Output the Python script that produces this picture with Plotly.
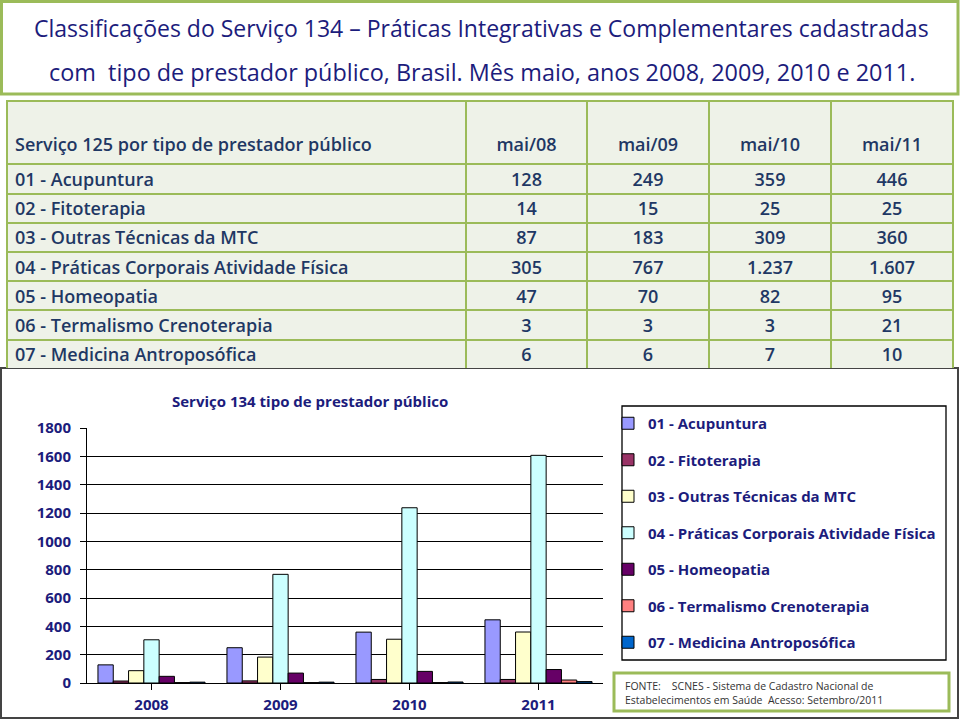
import plotly.graph_objects as go

# ---------------- data ----------------
years = ["2008", "2009", "2010", "2011"]
month_labels = ["mai/08", "mai/09", "mai/10", "mai/11"]
categories = [
    "01 - Acupuntura",
    "02 - Fitoterapia",
    "03 - Outras Técnicas da MTC",
    "04 - Práticas Corporais Atividade Física",
    "05 - Homeopatia",
    "06 - Termalismo Crenoterapia",
    "07 - Medicina Antroposófica",
]
acupuntura = [128, 249, 359, 446]
fitoterapia = [14, 15, 25, 25]
outras_mtc = [87, 183, 309, 360]
praticas_corporais = [305, 767, 1237, 1607]
homeopatia = [47, 70, 82, 95]
termalismo = [3, 3, 3, 21]
antroposofica = [6, 6, 7, 10]
series = [acupuntura, fitoterapia, outras_mtc, praticas_corporais,
          homeopatia, termalismo, antroposofica]
colors = ["#9999FF", "#993366", "#FFFFCC", "#CCFFFF", "#660066", "#FF8080", "#0066CC"]
y_ticks = [0, 200, 400, 600, 800, 1000, 1200, 1400, 1600, 1800]

title_l1 = "Classificações do Serviço 134 – Práticas Integrativas e Complementares cadastradas"
title_l2 = "com  tipo de prestador público, Brasil. Mês maio, anos 2008, 2009, 2010 e 2011."
table_header = "Serviço 125 por tipo de prestador público"
chart_title = "Serviço 134 tipo de prestador público"
source_text = ("FONTE:    SCNES - Sistema de Cadastro Nacional de<br>"
               "Estabelecimentos em Saúde  Acesso: Setembro/2011")

W, H = 960, 720
NAVY = "#1C1C7C"
TNAVY = "#1F3864"


def px_x(x):
    return x / W


def px_y(y):
    return 1 - y / H


def fmt(v):
    return f"{v:,}".replace(",", ".")


fig = go.Figure()

# ---------------- table ----------------
cols = [categories] + [[fmt(s[i]) for s in series] for i in range(len(years))]
fig.add_trace(go.Table(
    domain=dict(x=[px_x(7), px_x(953)], y=[px_y(368), px_y(101)]),
    columnwidth=[459, 121, 122, 122, 122],
    header=dict(
        values=["\u00a0<br>" + table_header] + ["\u00a0<br>" + m for m in month_labels],
        align=["left", "center", "center", "center", "center"],
        fill_color="#EEF2E8",
        line=dict(color="#9BBB59", width=2),
        font=dict(family="Open Sans", size=18, color=TNAVY, weight=600),
        height=56,
    ),
    cells=dict(
        values=cols,
        align=["left", "center", "center", "center", "center"],
        fill_color="#EEF2E8",
        line=dict(color="#9BBB59", width=2),
        font=dict(family="Open Sans", size=18, color=TNAVY, weight=600),
        height=29.2,
    ),
))

# ---------------- bars ----------------
for name, vals, col in zip(categories, series, colors):
    fig.add_trace(go.Bar(
        x=years, y=vals, name=name, legendgroup=name,
        marker=dict(color=col, line=dict(color="black", width=1)),
        xaxis="x", yaxis="y",
    ))

shapes = [
    # chart panel
    dict(type="rect", xref="paper", yref="paper", layer="below",
         x0=px_x(1), x1=px_x(958), y0=px_y(718), y1=px_y(368),
         fillcolor="white", line=dict(color="#444444", width=2)),
    # title box
    dict(type="rect", xref="paper", yref="paper", layer="below",
         x0=px_x(1.5), x1=px_x(958), y0=px_y(94), y1=px_y(1.5),
         fillcolor="white", line=dict(color="#9BBB59", width=3)),
    # legend box
    dict(type="rect", xref="paper", yref="paper", layer="below",
         x0=px_x(622), x1=px_x(946), y0=px_y(660), y1=px_y(406),
         fillcolor="white", line=dict(color="black", width=1.3)),
    # source box
    dict(type="rect", xref="paper", yref="paper", layer="below",
         x0=px_x(614), x1=px_x(949), y0=px_y(711), y1=px_y(673),
         fillcolor="white", line=dict(color="#9BBB59", width=3)),
]

annotations = [
    dict(text=title_l1, x=px_x(481), y=px_y(28), xref="paper", yref="paper",
         showarrow=False, xanchor="center", yanchor="middle",
         font=dict(family="Open Sans", size=23, color=NAVY)),
    dict(text=title_l2, x=px_x(482), y=px_y(72), xref="paper", yref="paper",
         showarrow=False, xanchor="center", yanchor="middle",
         font=dict(family="Open Sans", size=23.4, color=NAVY)),
    dict(text=chart_title, x=px_x(310), y=px_y(401), xref="paper", yref="paper",
         showarrow=False, xanchor="center", yanchor="middle",
         font=dict(family="Open Sans", size=15, color=NAVY, weight="bold")),
    dict(text=source_text, x=px_x(623), y=px_y(693), xref="paper", yref="paper",
         showarrow=False, xanchor="left", yanchor="middle", align="left",
         font=dict(family="Open Sans", size=10.5, color="#333333")),
]

fig.update_layout(
    template="none",
    width=W, height=H,
    margin=dict(l=0, r=0, t=0, b=0, pad=0, autoexpand=False),
    paper_bgcolor="white",
    plot_bgcolor="#C0C0C0",
    barmode="group", bargap=0.17, bargroupgap=0,
    shapes=shapes, annotations=annotations,
    showlegend=True,
    legend=dict(
        x=px_x(608), y=px_y(407), xanchor="left", yanchor="top",
        bgcolor="rgba(0,0,0,0)", borderwidth=0,
        tracegroupgap=14, itemwidth=30,
        font=dict(family="Open Sans", size=15, color=NAVY, weight="bold"),
    ),
    xaxis=dict(
        domain=[px_x(87), px_x(603)], automargin=False,
        showgrid=False, showline=True, linecolor="black", linewidth=1,
        ticks="outside", tickson="boundaries", ticklen=6, tickcolor="black",
        ticklabelstandoff=2,
        tickfont=dict(family="Open Sans", size=15, color=NAVY, weight="bold"),
        fixedrange=True,
    ),
    yaxis=dict(
        domain=[px_y(683), px_y(428)], automargin=False,
        range=[0, 1800], tickvals=y_ticks,
        showgrid=True, gridcolor="black", gridwidth=1,
        showline=True, linecolor="black", linewidth=1,
        ticks="outside", ticklen=6, tickcolor="black",
        ticklabelstandoff=6,
        tickfont=dict(family="Open Sans", size=15, color=NAVY, weight="bold"),
        zeroline=False,
        fixedrange=True,
    ),
)

fig.write_html("out.html")
